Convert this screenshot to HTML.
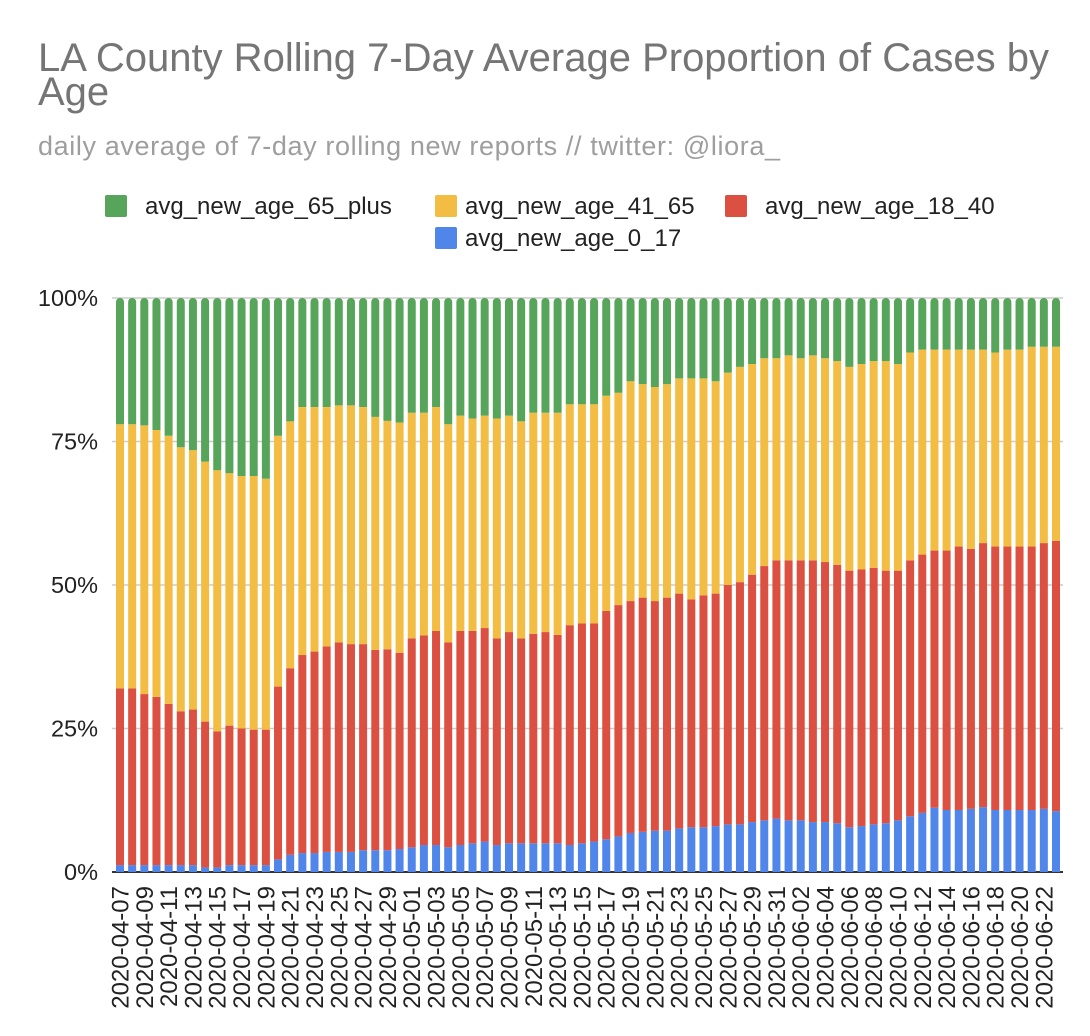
<!DOCTYPE html>
<html><head><meta charset="utf-8"><style>
body{margin:0;background:#fff;font-family:"Liberation Sans",Arial,sans-serif;}
svg{display:block}
</style></head><body>
<svg id="chart" width="1090" height="1036" viewBox="0 0 1090 1036" xmlns="http://www.w3.org/2000/svg">
<text x="38" y="71" font-size="40" fill="#757575">LA County Rolling 7-Day Average Proportion of Cases by</text>
<text x="38" y="105" font-size="40" fill="#757575">Age</text>
<text x="38" y="155" font-size="27" fill="#9e9e9e" textLength="742">daily average of 7-day rolling new reports // twitter: @liora_</text>
<g font-size="24" fill="#222">
<g><rect x="105" y="195" width="22" height="22" rx="2" fill="#57a55a"/><text x="145" y="214">avg_new_age_65_plus</text></g>
<g><rect x="435" y="195" width="22" height="22" rx="2" fill="#f2bd42"/><text x="465" y="214">avg_new_age_41_65</text></g>
<g><rect x="725" y="195" width="22" height="22" rx="2" fill="#db5041"/><text x="765" y="214">avg_new_age_18_40</text></g>
<g><rect x="435" y="227" width="22" height="22" rx="2" fill="#5086ea"/><text x="465" y="246">avg_new_age_0_17</text></g>
</g>
<g id="grid"></g><g id="bars"></g><g id="yaxis"></g><g id="xaxis"></g>
</svg>
<script>
// share of age 0-17 (%)
const age_0_17 = [1.2,1.2,1.2,1.2,1.2,1.2,1.2,0.8,0.8,1.2,1.2,1.2,1.2,2.2,3,3.3,3.3,3.5,3.5,3.5,3.8,3.8,3.8,4,4.3,4.7,4.7,4.3,4.7,5,5.3,4.7,5,5,5,5,5,4.7,5,5.3,5.7,6.2,6.8,7,7.2,7.2,7.6,7.8,7.8,8,8.3,8.3,8.7,9,9.3,9,9,8.7,8.7,8.5,7.8,8,8.3,8.5,9,9.7,10.3,11.2,10.8,10.8,11,11.3,10.8,10.8,10.8,10.8,11,10.6];
// cumulative top of age 18-40 band (%)
const top_18_40 = [32,32,31,30.5,29.3,28,28.3,26.2,24.5,25.5,25,24.8,24.8,32.3,35.5,37.8,38.4,39.3,40,39.7,39.7,38.7,38.8,38.2,40.7,41.2,42,40,42,42,42.5,40.7,41.8,40.7,41.5,41.8,41.3,43,43.3,43.3,45.5,46.5,47.2,47.8,47.2,47.8,48.5,47.5,48.2,48.5,50,50.5,51.8,53.3,54.3,54.3,54.3,54.3,54,53.5,52.5,52.7,53,52.5,52.5,54.3,55.3,56,56,56.7,56.3,57.3,56.7,56.7,56.7,56.7,57.3,57.7];
// cumulative top of age 41-65 band (%); 65+ fills to 100
const top_41_65 = [78,78,77.8,77,76,74,73.5,71.5,70,69.5,69,69,68.5,76,78.5,81,81,81,81.3,81.3,81,79.3,78.6,78.3,80,80,81,78,79.5,79,79.5,79,79.5,78.5,80,80,80,81.5,81.5,81.5,83,83.5,85.5,85,84.5,85,86,86,86,85.5,87,88,88.5,89.5,89.5,90,89.5,90,89.5,89,88,88.5,89,89,88.5,90.5,91,91,91,91,91,91,90.5,91,91,91.5,91.5,91.5];
const yTicks = [0,25,50,75,100];
const startDate = "2020-04-07";

const NS="http://www.w3.org/2000/svg";
const y0=872,y1=298,xFirst=120,xLast=1056,bw=8;
const n=age_0_17.length;
const y=v=>y0-(v/100)*(y0-y1);
const x=i=>xFirst+i*(xLast-xFirst)/(n-1);
function mk(tag,attrs,parent){const e=document.createElementNS(NS,tag);for(const k in attrs)e.setAttribute(k,attrs[k]);parent.appendChild(e);return e;}
const grid=document.getElementById('grid'),yax=document.getElementById('yaxis'),bars=document.getElementById('bars'),xax=document.getElementById('xaxis');
yTicks.forEach(t=>{
  const l=mk('line',{x1:112,x2:1063,y1:y(t),y2:y(t),stroke:t===0?'#333':'#ccc','stroke-width':t===0?2:1.5},grid);
  
  
  const tx=mk('text',{x:98,y:y(t)+8,'text-anchor':'end','font-size':23.5,fill:'#222'},yax);
  tx.textContent=t+'%';
  
  
});
const d0=new Date(startDate+"T00:00:00Z");
for(let i=0;i<n;i++){
  const cx=x(i),lx=cx-bw/2;
  const segs=[[0,age_0_17[i],'#5086ea','bar-age-0-17'],[age_0_17[i],top_18_40[i],'#db5041','bar-age-18-40'],[top_18_40[i],top_41_65[i],'#f2bd42','bar-age-41-65']];
  segs.forEach(s=>{
    const r=mk('rect',{x:lx,y:y(s[1]),width:bw,height:y(s[0])-y(s[1]),fill:s[2]},bars);
    
    
  });
  const gt=y(100),gb=y(top_41_65[i]),rr=bw/2;
  const p=mk('path',{d:`M${lx},${gb}L${lx},${gt+rr}A${rr},${rr} 0 0 1 ${lx+bw},${gt+rr}L${lx+bw},${gb}Z`,fill:'#57a55a'},bars);
  
  
  if(i%2===0){
    const d=new Date(d0.getTime()+i*86400000);
    const s=d.toISOString().slice(0,10);
    const t=mk('text',{x:0,y:0,'text-anchor':'end','font-size':24,fill:'#222',transform:`translate(${cx+8.5},886) rotate(-90)`},xax);
    t.textContent=s;
    
    
  }
}
</script>
</body></html>
